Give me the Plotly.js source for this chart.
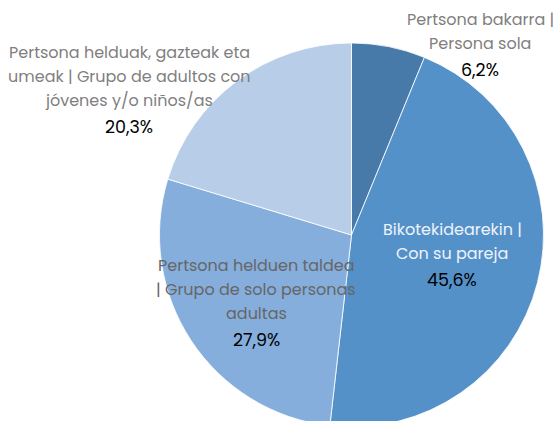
<!DOCTYPE html>
<html><head><meta charset="utf-8">
<script src="https://cdn.plot.ly/plotly-3.0.1.min.js"></script>
<style>html,body{margin:0;padding:0;overflow:hidden;background:#fff}</style>
</head><body>
<div id="chart" style="width:557px;height:427px"></div>
<script>
const labelLines = [
  ["Pertsona bakarra |", "Persona sola"],
  ["Bikotekidearekin |", "Con su pareja"],
  ["Pertsona helduen taldea", "| Grupo de solo personas", "adultas"],
  ["Pertsona helduak, gazteak eta", "umeak | Grupo de adultos con", "jóvenes y/o niños/as"]
];
const values = [6.2, 45.6, 27.9, 20.3];
const valueText = ["6,2%", "45,6%", "27,9%", "20,3%"];
const colors = ["#4779a9", "#5591c9", "#85aedc", "#b8cde8"];

// layout of label blocks: centre x, first line centre y (pixels), label colour
const labelPos = [
  {x: 480, y: 19, color: "#7f7f7f"},
  {x: 452, y: 229, color: "#eef3fa"},
  {x: 256, y: 265, color: "#666666"},
  {x: 129, y: 52, color: "#7f7f7f"}
];
const W = 557, H = 427, MT = 43;
const FONT = "Poppins, 'Open Sans', sans-serif";
const LINE = 24, PCT_GAP = 27;
const py2paper = py => 1 - (py - MT) / (H - MT);

const annotations = [];
labelLines.forEach((lines, i) => {
  const p = labelPos[i];
  lines.forEach((l, j) => {
    annotations.push({
      xref: "paper", yref: "paper",
      x: p.x / W, y: py2paper(p.y + j * LINE),
      xanchor: "center", yanchor: "middle",
      text: l, showarrow: false,
      font: {family: FONT, size: 16, color: p.color}
    });
  });
  const py = p.y + (lines.length - 1) * LINE + PCT_GAP;
  annotations.push({
    xref: "paper", yref: "paper",
    x: p.x / W, y: py2paper(py),
    xanchor: "center", yanchor: "middle",
    text: valueText[i], showarrow: false,
    font: {family: FONT, size: 17.5, color: "#000000"}
  });
});

const cx = 351.5, r = 192;
const data = [{
  type: "pie",
  labels: labelLines.map(l => l.join(" ")),
  values: values,
  sort: false,
  direction: "clockwise",
  rotation: 0,
  marker: {colors: colors, line: {color: "#ffffff", width: 0.8}},
  textinfo: "none",
  hoverinfo: "label+percent",
  showlegend: false,
  domain: {x: [(cx - r) / W, (cx + r) / W], y: [0, 1]}
}];

const layout = {
  width: W, height: H,
  margin: {l: 0, r: 0, t: MT, b: 0},
  paper_bgcolor: "#ffffff",
  annotations: annotations,
  showlegend: false
};
Plotly.newPlot("chart", data, layout, {displayModeBar: false, staticPlot: true});
</script>
</body></html>
